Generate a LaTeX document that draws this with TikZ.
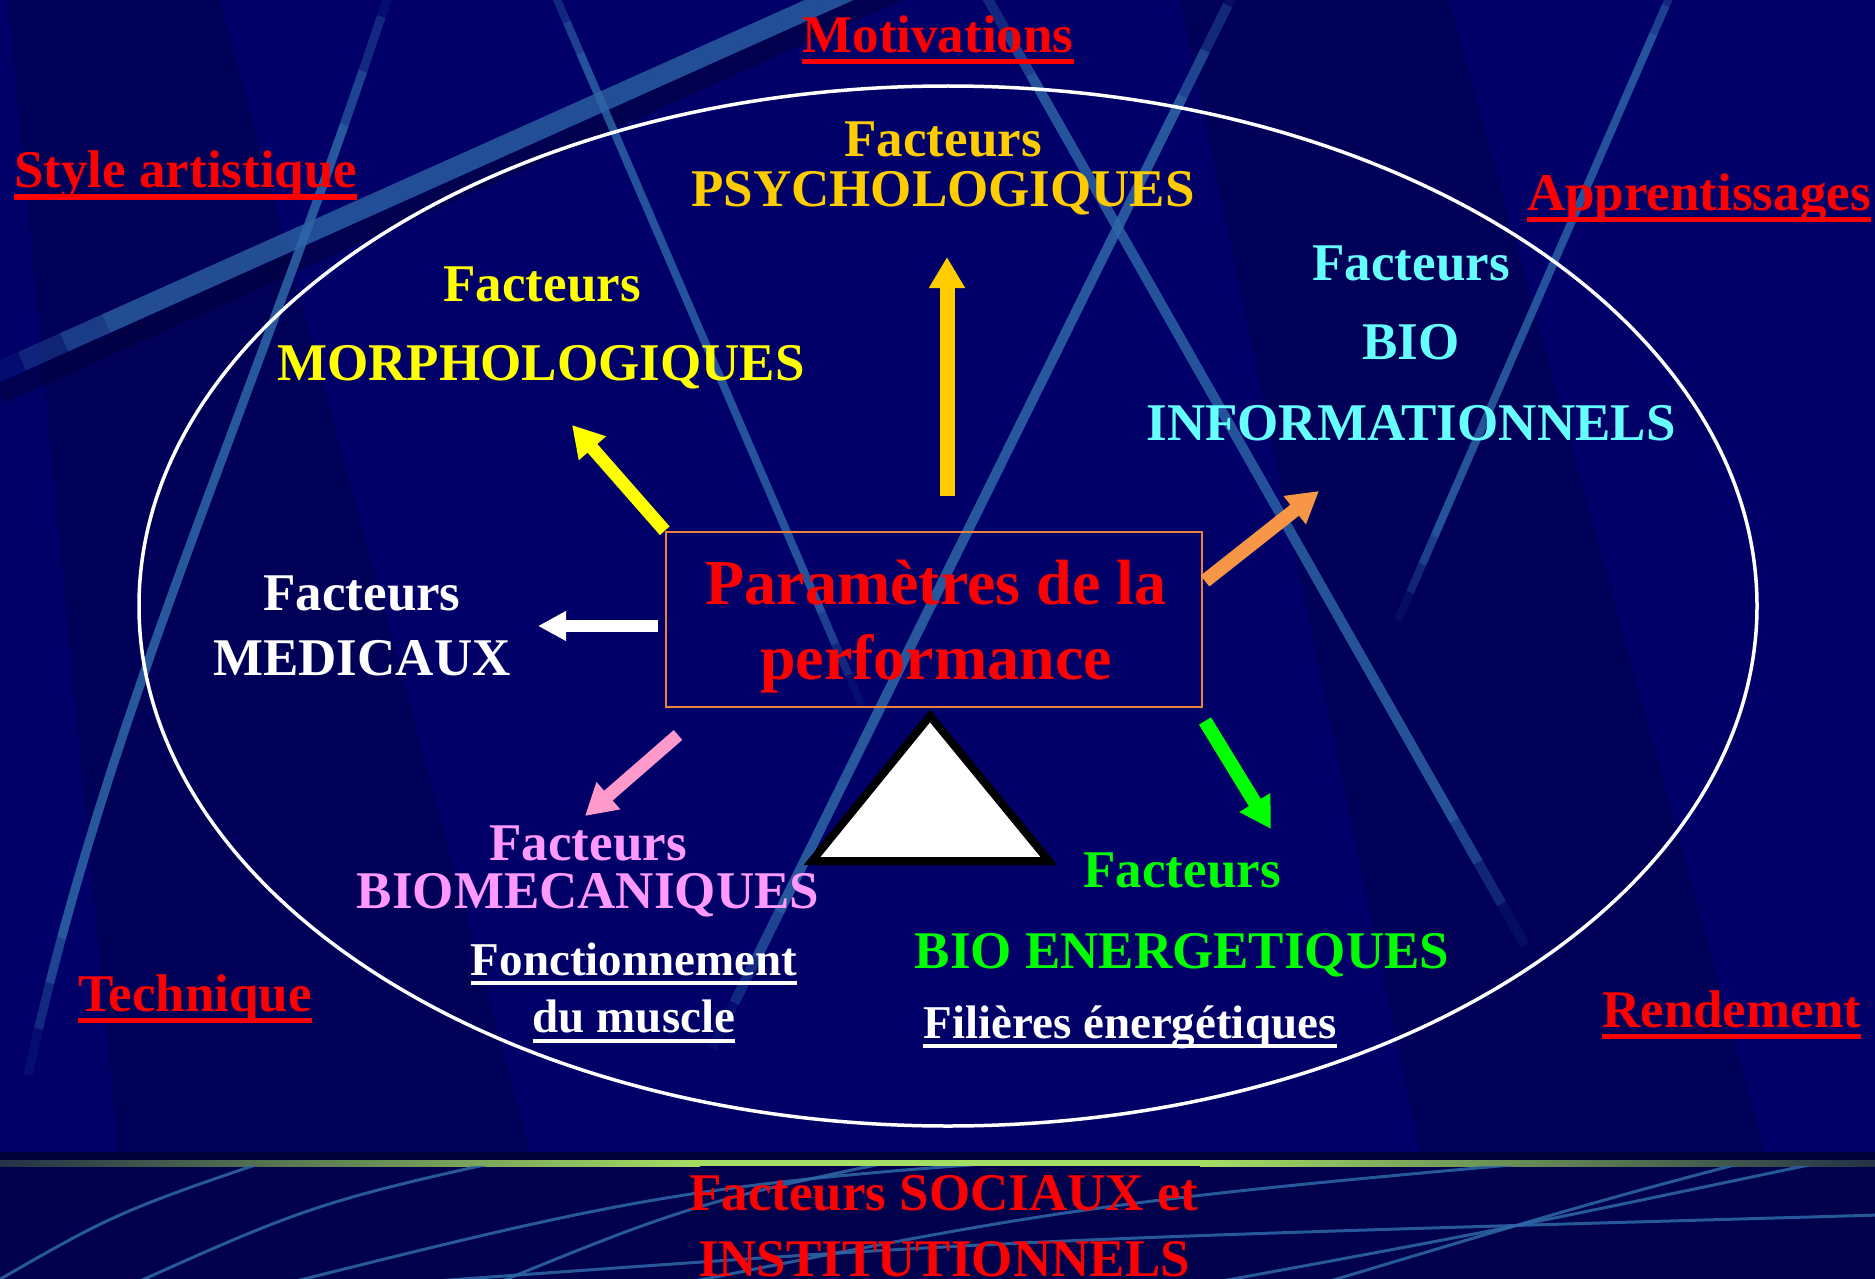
\documentclass[tikz,border=0pt]{standalone}
\usepackage{fontspec}
\setmainfont{Liberation Serif}
\usetikzlibrary{arrows.meta,calc}

\definecolor{navy}{RGB}{0,0,104}
\definecolor{navyshade}{RGB}{0,0,88}
\definecolor{navydark}{RGB}{0,0,76}
\definecolor{navydeep}{RGB}{0,0,56}
\definecolor{glintc}{RGB}{46,104,168}
\definecolor{slidered}{RGB}{255,0,0}
\definecolor{gold}{RGB}{255,204,0}
\definecolor{lemon}{RGB}{255,255,0}
\definecolor{aqua}{RGB}{102,255,255}
\definecolor{orchid}{RGB}{255,153,255}
\definecolor{rosy}{RGB}{255,153,204}
\definecolor{lime}{RGB}{0,255,0}
\definecolor{tangerine}{RGB}{247,150,70}
\definecolor{boxedge}{RGB}{235,130,60}
\definecolor{leaf}{RGB}{165,222,100}
\definecolor{leafdark}{RGB}{35,50,70}

% light streak along a path, fading out towards both ends
\newcommand\glint[3]{%
  \foreach \k in {0,...,23}{%
    \pgfmathsetmacro\ga{\k/24}%
    \pgfmathsetmacro\gb{(\k+1)/24}%
    \pgfmathsetmacro\glop{#3*min(1,2.4*sin(180*(\k+0.5)/24))}%
    \path #1 coordinate[pos=\ga] (g-a) coordinate[pos=\gb] (g-b);
    \draw[glintc, line width=#2, opacity=\glop] (g-a) -- (g-b);
  }}

\begin{document}
\begin{tikzpicture}[x=1pt,y=-1pt,
  big/.style={font=\fontsize{53}{60}\selectfont\bfseries, anchor=base, inner sep=0pt},
  small/.style={font=\fontsize{47}{54}\selectfont\bfseries, anchor=base, inner sep=0pt, text=white},
  title/.style={font=\fontsize{64}{72}\selectfont\bfseries, anchor=base, inner sep=0pt, text=slidered},
  corner/.style={big, text=slidered},
  redrule/.style={line width=5pt, slidered},
  whiterule/.style={line width=4pt, white},
  blockarrow/.style={line width=#1, -{Triangle[width=34pt,length=31pt]}},
]
\useasboundingbox (0,0) rectangle (1875,1279);

% ---------- background ----------
\begin{scope}
\clip (0,0) rectangle (1875,1279);
\fill[navy] (0,0) rectangle (1875,1279);
% darker wedges
\fill[navyshade] (8,0) -- (220,0) -- (530,1152) -- (118,1152) -- cycle;
\fill[navyshade] (1180,0) -- (1449,0) -- (1765,1152) -- (1420,1152) -- cycle;

% broad band with its shadow
\draw[navydeep, line width=20pt, opacity=0.5] (0,394) -- (980,-46);
\glint{(-20,380) -- (990,-72)}{20pt}{0.75}
% thinner streaks
\glint{(400,-40) .. controls (250,420) and (110,700) .. (28,1075)}{9pt}{0.85}
\glint{(540,-40) -- (862,706)}{8pt}{0.8}
\glint{(1250,-40) -- (712,1048)}{10pt}{0.85}
\glint{(960,-50) -- (1525,945)}{10pt}{0.8}
\glint{(1690,-50) -- (1398,620)}{8pt}{0.8}

% lower band
\fill[navydark] (0,1152) rectangle (1875,1279);
\fill[navydeep] (0,1152) rectangle (1875,1160);
\shade[left color=leafdark, right color=leaf] (0,1160) rectangle (700,1166);
\fill[leaf] (699,1160) rectangle (1201,1166);
\shade[left color=leaf, right color=leafdark] (1200,1160) rectangle (1875,1166);
\begin{scope}
\clip (0,1166) rectangle (1875,1279);
\draw[glintc, line width=3pt, opacity=0.85] (-10,1285) .. controls (120,1210) .. (330,1140);
\draw[glintc, line width=3pt, opacity=0.85] (120,1290) .. controls (320,1200) .. (600,1140);
\draw[glintc, line width=3pt, opacity=0.85] (260,1290) .. controls (700,1180) .. (1360,1140);
\draw[glintc, line width=3pt, opacity=0.85] (480,1290) .. controls (700,1200) .. (1000,1140);
\draw[glintc, line width=3pt, opacity=0.85] (650,1290) .. controls (1100,1200) .. (1800,1140);
\draw[glintc, line width=3pt, opacity=0.85] (1200,1285) .. controls (1500,1230) .. (1880,1150);
\draw[glintc, line width=3pt, opacity=0.85] (1300,1290) .. controls (1600,1200) .. (1830,1140);
\draw[glintc, line width=3pt, opacity=0.85] (380,1285) .. controls (1000,1240) .. (1880,1215);
\end{scope}
\end{scope}

% ---------- ellipse and centre ----------
\draw[white, line width=3.5pt] (948,606) ellipse [x radius=809, y radius=520];

\node[draw=boxedge, line width=2.5pt, minimum width=536pt, minimum height=175pt, inner sep=0pt] (param) at (934,619.5) {};
\node[title] (par1) at (936,604) {Paramètres de la};
\node[title] (par2) at (936,679) {performance};

\filldraw[fill=white, draw=black, line width=8pt, line join=miter] (930,716) -- (812,861) -- (1049,861) -- cycle;

% ---------- arrows ----------
\coordinate (psy-from) at (947,496);   \coordinate (psy-tip) at (947,257);
\coordinate (mor-tip) at (572,425);
\coordinate (med-from) at (658,626);   \coordinate (med-tip) at (538,626);
\coordinate (inf-from) at (1205,581);  \coordinate (inf-tip) at (1319,491);
\coordinate (bmc-from) at (678,735);   \coordinate (bmc-tip) at (585,816);
\coordinate (nrj-from) at (1205,721);  \coordinate (nrj-tip) at (1271,829);

\draw[blockarrow=15pt, gold] (psy-from) -- (psy-tip);
\draw[blockarrow=13pt, lemon] (param.north west) -- (mor-tip);
\draw[blockarrow=12pt, white, -{Triangle[width=28pt,length=28pt]}] (med-from) -- (med-tip);
\draw[blockarrow=14pt, tangerine] (inf-from) -- (inf-tip);
\draw[blockarrow=13pt, rosy] (bmc-from) -- (bmc-tip);
\draw[blockarrow=14pt, lime] (nrj-from) -- (nrj-tip);

% ---------- factor labels ----------
\node[big, text=gold] (psy1) at (943,157) {Facteurs};
\node[big, text=gold] (psy2) at (943,206) {PSYCHOLOGIQUES};

\node[big, text=lemon] (mor1) at (542,301) {Facteurs};
\node[big, text=lemon] (mor2) at (541,380) {MORPHOLOGIQUES};

\node[big, text=aqua] (inf1) at (1411,280) {Facteurs};
\node[big, text=aqua] (inf2) at (1411,359) {BIO};
\node[big, text=aqua] (inf3) at (1411,440) {INFORMATIONNELS};

\node[big, text=white] (med1) at (362,610) {Facteurs};
\node[big, text=white] (med2) at (362,675) {MEDICAUX};

\node[big, text=orchid] (bmc1) at (588,860) {Facteurs};
\node[big, text=orchid] (bmc2) at (588,908) {BIOMECANIQUES};
\node[small] (bmc3) at (634,975) {Fonctionnement};
\node[small] (bmc4) at (634,1032) {du muscle};
\draw[whiterule] ([yshift=-8pt]bmc3.base west) -- ([yshift=-8pt]bmc3.base east);
\draw[whiterule] ([yshift=-9pt]bmc4.base west) -- ([yshift=-9pt]bmc4.base east);

\node[big, text=lime] (nrj1) at (1182,887) {Facteurs};
\node[big, text=lime] (nrj2) at (1182,968) {BIO ENERGETIQUES};
\node[small] (nrj3) at (1130,1038) {Filières énergétiques};
\draw[whiterule] ([yshift=-8pt]nrj3.base west) -- ([yshift=-8pt]nrj3.base east);

% ---------- outer labels ----------
\node[corner] (motiv) at (938,53) {Motivations};
\node[corner, anchor=base west] (style) at (14,188) {Style artistique};
\node[corner, anchor=base west] (appr) at (1527,210) {Apprentissages};
\node[corner, anchor=base west] (tech) at (78,1011) {Technique};
\node[corner, anchor=base west] (rend) at (1602,1027) {Rendement};
\foreach \n in {motiv,style,appr,tech,rend}
  \draw[redrule] ([yshift=-9pt]\n.base west) -- ([yshift=-9pt]\n.base east);

\begin{scope}
\clip (0,0) rectangle (1875,1279);
\node[corner] (soc1) at (944,1210) {Facteurs SOCIAUX et};
\node[corner] (soc2) at (944,1276) {INSTITUTIONNELS};
\end{scope}
\end{tikzpicture}
\end{document}
